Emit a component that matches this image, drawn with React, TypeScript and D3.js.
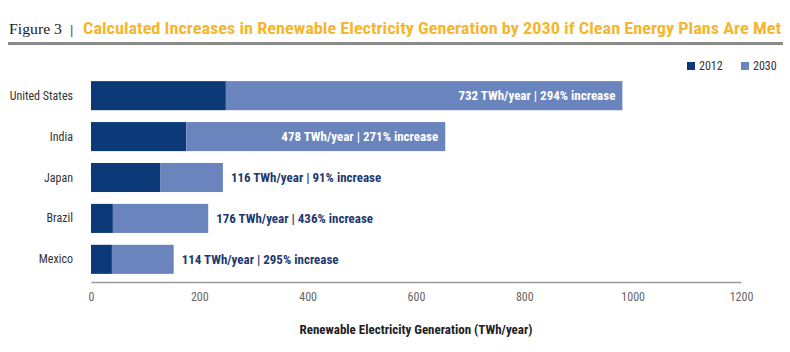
import React, { useEffect, useRef } from 'react'
import * as d3 from 'd3'

// values (TWh/year)
const countries = ['United States', 'India', 'Japan', 'Brazil', 'Mexico']
const gen2012 = [249, 176, 127.5, 40.4, 38.6]
const increase2030 = [732, 478, 116, 176, 114]
const pctIncrease = [294, 271, 91, 436, 295]
const xTicks = [0, 200, 400, 600, 800, 1000, 1200]

const DARK = '#0c3a78'
const LIGHT = '#6a85bd'
const NARROW = '"Liberation Sans Narrow", "Arial Narrow", "Roboto Condensed", sans-serif'

function App() {
  const ref = useRef<SVGSVGElement>(null)

  useEffect(() => {
    const svg = d3.select(ref.current)
    svg.selectAll('*').remove()

    const x = d3.scaleLinear().domain([0, 1200]).range([91, 741])
    const y = d3.scaleBand().domain(countries).range([75, 280]).paddingInner(0.29).paddingOuter(0.15)

    // header
    svg.append('text')
      .attr('x', 9).attr('y', 34)
      .attr('font-family', '"Liberation Serif", "DejaVu Serif", serif')
      .attr('font-size', 15).attr('fill', '#222')
      .attr('textLength', 53).attr('lengthAdjust', 'spacingAndGlyphs')
      .text('Figure 3')
    svg.append('text')
      .attr('x', 70).attr('y', 34)
      .attr('font-family', 'sans-serif').attr('font-size', 13).attr('fill', '#555')
      .text('|')
    svg.append('text')
      .attr('x', 83).attr('y', 34)
      .attr('font-family', NARROW).attr('font-weight', 'bold')
      .attr('font-size', 16).attr('fill', '#f4b730')
      .attr('textLength', 698).attr('lengthAdjust', 'spacingAndGlyphs')
      .text('Calculated Increases in Renewable Electricity Generation by 2030 if Clean Energy Plans Are Met')
    svg.append('rect')
      .attr('x', 8).attr('y', 42).attr('width', 775).attr('height', 3).attr('fill', '#8a8a8a')

    // legend
    const legend = [{ k: '2012', c: DARK, x: 687 }, { k: '2030', c: LIGHT, x: 741 }]
    legend.forEach((l) => {
      svg.append('rect').attr('x', l.x).attr('y', 62).attr('width', 8).attr('height', 8).attr('fill', l.c)
      svg.append('text')
        .attr('x', l.x + 12).attr('y', 70)
        .attr('font-family', NARROW).attr('font-size', 12).attr('fill', '#333')
        .text(l.k)
    })

    // bars
    const rows = countries.map((c, i) => ({ c, a: gen2012[i], b: increase2030[i], p: pctIncrease[i] }))
    const g = svg.append('g')
    g.selectAll('rect.base').data(rows).enter().append('rect')
      .attr('x', x(0)).attr('y', (d) => y(d.c) as number)
      .attr('width', (d) => x(d.a) - x(0)).attr('height', y.bandwidth())
      .attr('fill', DARK)
    g.selectAll('rect.inc').data(rows).enter().append('rect')
      .attr('x', (d) => x(d.a)).attr('y', (d) => y(d.c) as number)
      .attr('width', (d) => x(d.a + d.b) - x(d.a)).attr('height', y.bandwidth())
      .attr('fill', LIGHT)

    // value labels
    g.selectAll('text.val').data(rows).enter().append('text')
      .attr('x', (d) => (d.b > 300 ? x(d.a + d.b) - 7 : x(d.a + d.b) + 8))
      .attr('y', (d) => (y(d.c) as number) + y.bandwidth() / 2 + 4.5)
      .attr('text-anchor', (d) => (d.b > 300 ? 'end' : 'start'))
      .attr('font-family', NARROW).attr('font-weight', 'bold').attr('font-size', 13)
      .attr('fill', (d) => (d.b > 300 ? '#ffffff' : '#1d3a6e'))
      .text((d) => `${d.b} TWh/year | ${d.p}% increase`)

    // category labels
    g.selectAll('text.cat').data(rows).enter().append('text')
      .attr('x', 73)
      .attr('y', (d) => (y(d.c) as number) + y.bandwidth() / 2 + 4)
      .attr('text-anchor', 'end')
      .attr('font-family', NARROW).attr('font-size', 12).attr('fill', '#333')
      .text((d) => d.c)

    // x axis
    const ax = svg.append('g').attr('transform', 'translate(0,282)')
      .call(d3.axisBottom(x).tickValues(xTicks).tickSize(0).tickPadding(10).tickFormat(d3.format('d')))
    ax.select('.domain').attr('stroke', '#9a9a9a').attr('stroke-width', 1.5)
    ax.selectAll('text')
      .attr('font-family', NARROW).attr('font-size', 12).attr('fill', '#666')

    svg.append('text')
      .attr('x', 416).attr('y', 334).attr('text-anchor', 'middle')
      .attr('font-family', NARROW).attr('font-weight', 'bold').attr('font-size', 13).attr('fill', '#222')
      .text('Renewable Electricity Generation (TWh/year)')
  }, [])

  return (
    <svg ref={ref} width={790} height={352}
      style={{ position: 'absolute', left: 0, top: 0, background: '#fff' }} />
  )
}

export default App
